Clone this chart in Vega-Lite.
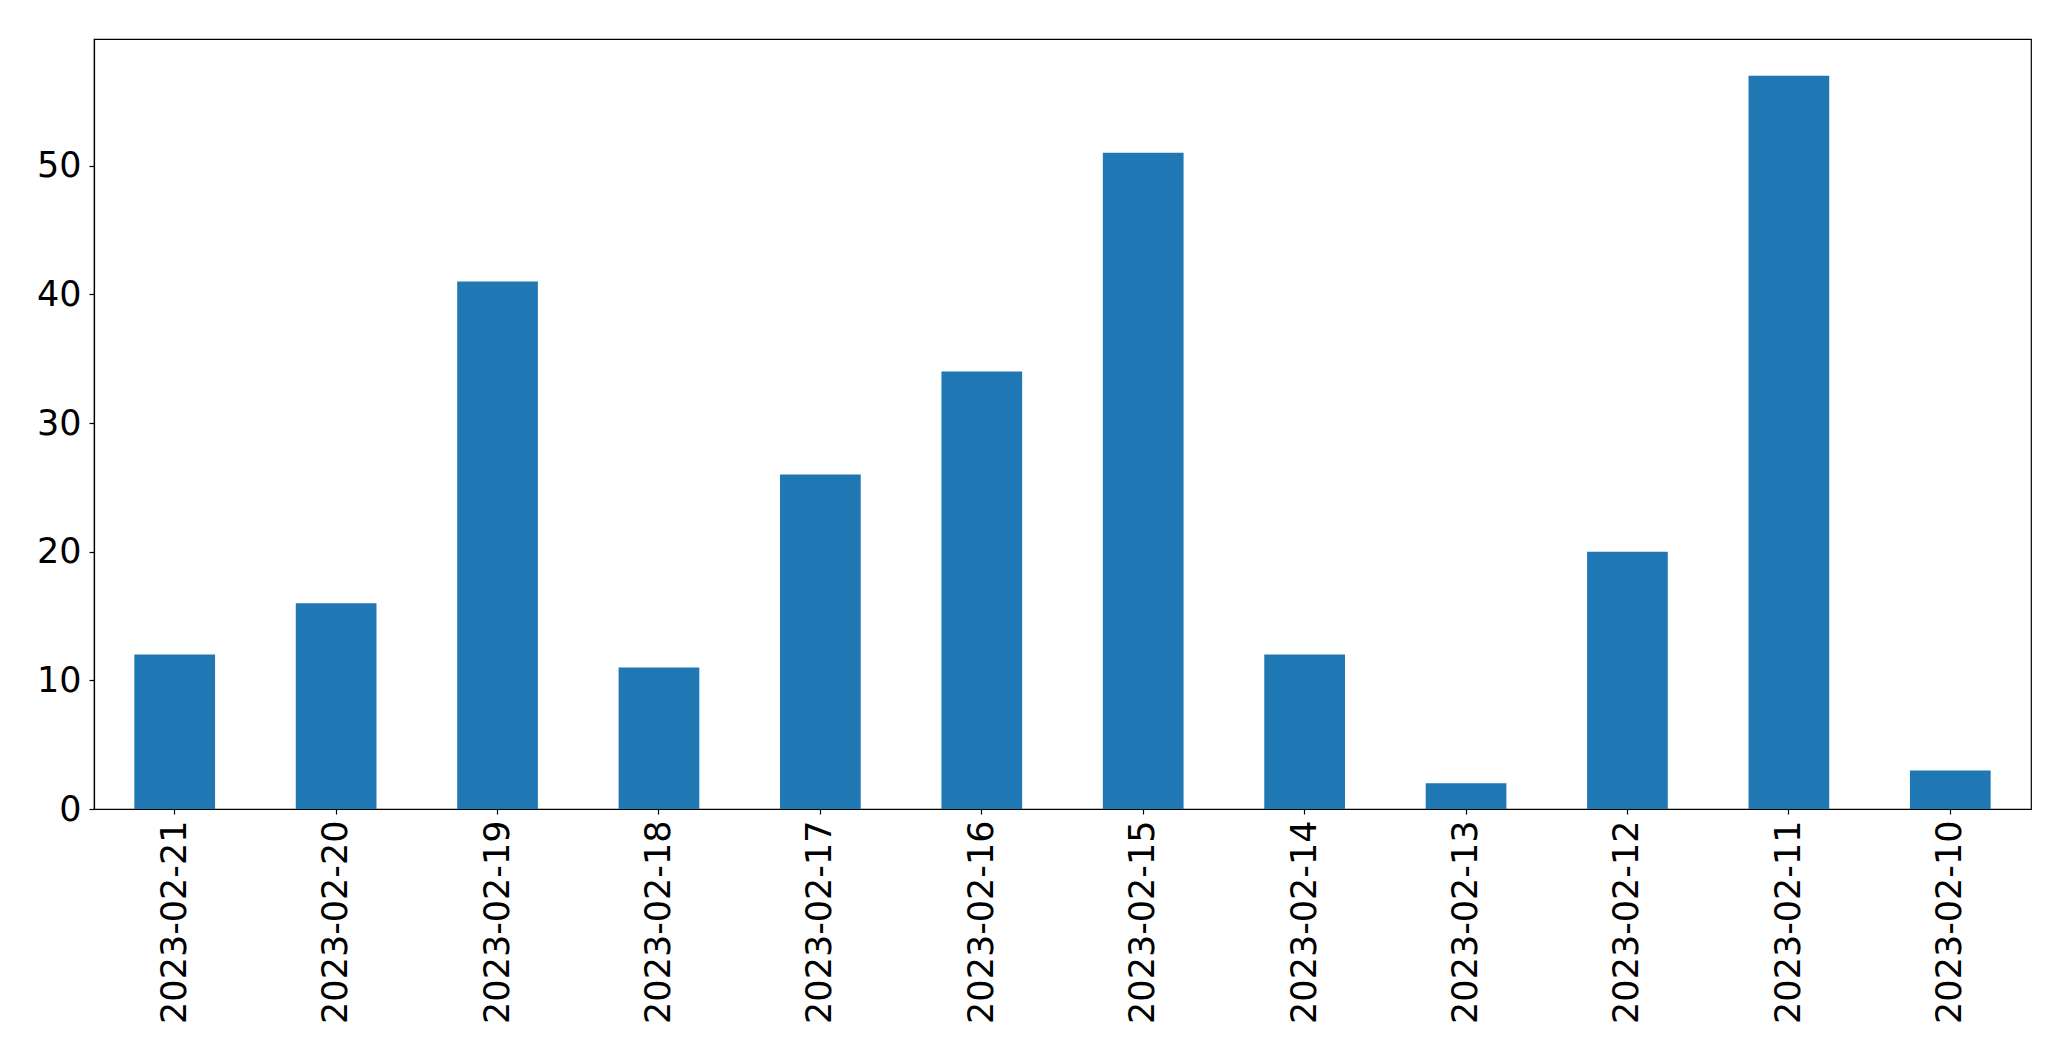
{
  "$schema": "https://vega.github.io/schema/vega-lite/v6.json",
  "width": 1937,
  "height": 770,
  "autosize": {"type": "none"},
  "padding": {"left": 94, "top": 39, "right": 40, "bottom": 252},
  "background": "white",
  "config": {
    "view": {"stroke": "black", "strokeWidth": 1.2},
    "axis": {
      "labelFont": "DejaVu Sans",
      "labelFontSize": 35,
      "labelColor": "black",
      "labelLimit": 0,
      "domainColor": "black",
      "tickColor": "black",
      "tickSize": 5,
      "tickWidth": 1.2,
      "domainWidth": 1.2,
      "grid": false,
      "title": null
    }
  },
  "data": {
    "values": [
      {"date": "2023-02-21", "count": 12},
      {"date": "2023-02-20", "count": 16},
      {"date": "2023-02-19", "count": 41},
      {"date": "2023-02-18", "count": 11},
      {"date": "2023-02-17", "count": 26},
      {"date": "2023-02-16", "count": 34},
      {"date": "2023-02-15", "count": 51},
      {"date": "2023-02-14", "count": 12},
      {"date": "2023-02-13", "count": 2},
      {"date": "2023-02-12", "count": 20},
      {"date": "2023-02-11", "count": 57},
      {"date": "2023-02-10", "count": 3}
    ]
  },
  "mark": {"type": "bar", "color": "#1f77b4"},
  "encoding": {
    "x": {
      "field": "date",
      "type": "nominal",
      "sort": null,
      "scale": {"paddingInner": 0.5, "paddingOuter": 0.25},
      "axis": {"labelAngle": 270, "labelAlign": "right", "labelBaseline": "middle", "labelPadding": 6}
    },
    "y": {
      "field": "count",
      "type": "quantitative",
      "scale": {"domain": [0, 59.85], "nice": false},
      "axis": {"values": [0, 10, 20, 30, 40, 50], "labelPadding": 8}
    }
  }
}
